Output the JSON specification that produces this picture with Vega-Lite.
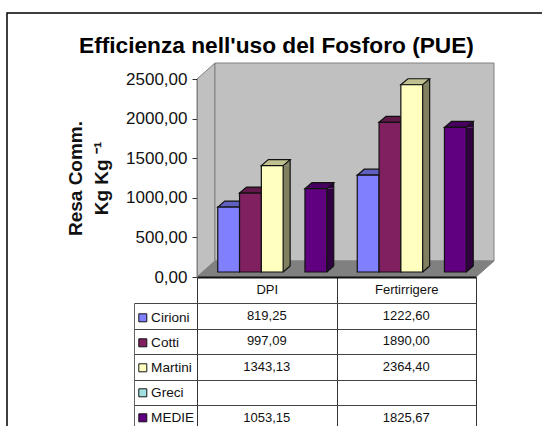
{
"$schema":"https://vega.github.io/schema/vega-lite/v6.json",
"width":537,"height":414,
"autosize":"none",
"padding":{"left":7,"top":13,"right":0,"bottom":0},
"background":"white",
"config":{"view":{"stroke":"black","strokeWidth":1.5},"font":"Liberation Sans","locale":{"number":{"decimal":",","thousands":".","grouping":[3],"currency":["","€"]}}},
"title":{"text":"Efficienza nell'uso del Fosforo (PUE)","font":"Liberation Sans","fontSize":22.7,"fontWeight":"bold","color":"black","anchor":"start","offset":-45,"dx":72},
"datasets":{
"rows":[
{"t":"DPI","s":"Cirioni","value":819.25},{"t":"DPI","s":"Cotti","value":997.09},{"t":"DPI","s":"Martini","value":1343.13},{"t":"DPI","s":"Greci","value":null},{"t":"DPI","s":"MEDIE","value":1053.15},
{"t":"Fertirrigere","s":"Cirioni","value":1222.60},{"t":"Fertirrigere","s":"Cotti","value":1890.00},{"t":"Fertirrigere","s":"Martini","value":2364.40},{"t":"Fertirrigere","s":"Greci","value":null},{"t":"Fertirrigere","s":"MEDIE","value":1825.67}],
"walls":[
{"part":"side","u":0,"lo":0,"hi":2500},{"part":"side","u":0.0645,"lo":202,"hi":2702},
{"part":"back","u":0.0645,"lo":202,"hi":2702},{"part":"back","u":1.0645,"lo":202,"hi":2702},
{"part":"floor","u":0,"lo":0,"hi":0},{"part":"floor","u":0.0645,"lo":0,"hi":202},{"part":"floor","u":1,"lo":0,"hi":202},{"part":"floor","u":1.0645,"lo":202,"hi":202}]
},
"layer":[
{"data":{"name":"walls"},
 "mark":{"type":"area","orient":"vertical","stroke":"#808080","strokeWidth":1,"opacity":1},
 "encoding":{
  "x":{"field":"u","type":"quantitative","axis":null,"scale":{"domain":[0,1.0645],"range":[190,487],"zero":false,"nice":false}},
  "y":{"field":"hi","type":"quantitative","stack":null,"scale":{"domain":[0,2500],"range":[264,66],"nice":false,"zero":false},
   "axis":{"orient":"left","offset":-190,"values":[0,500,1000,1500,2000,2500],"format":".2f","grid":false,"domainColor":"#808080","tickColor":"#333333","tickSize":5,"labelPadding":5,"labelFontSize":17,"labelColor":"#111111","labelFont":"Liberation Sans","zindex":1,
    "title":["Resa Comm.","Kg Kg ⁻¹"],"titleFontSize":19,"titleFontWeight":"bold","titleColor":"#111111","titleFont":"Liberation Sans","titleX":-112,"titleY":165,"titleAngle":-90,"titleLineHeight":26}},
  "y2":{"field":"lo"},
  "color":{"field":"part","type":"nominal","legend":null,"scale":{"domain":["side","back","floor"],"range":["#c0c0c0","#c0c0c0","#808080"]}}
 }},
{"data":{"name":"rows"},
 "encoding":{
  "x":{"field":"t","type":"nominal","axis":null,"scale":{"type":"band","domain":["DPI","Fertirrigere"],"range":[195.5,474.5],"paddingInner":0,"paddingOuter":0}},
  "xOffset":{"field":"s","type":"nominal","scale":{"type":"band","domain":["Cirioni","Cotti","Martini","Greci","MEDIE"],"paddingInner":0,"paddingOuter":0.7}},
  "y":{"field":"value","type":"quantitative","axis":null,"scale":{"domain":[0,2500],"range":[264,66],"nice":false,"zero":false}}
 },
 "resolve":{"scale":{"color":"independent","x":"independent","xOffset":"independent"}},
 "layer":[
  {"mark":{"type":"rule","strokeWidth":7,"yOffset":-5,"y2Offset":-11},
   "encoding":{"x":{"field":"t","type":"nominal","axis":null,"scale":{"type":"band","domain":["DPI","Fertirrigere"],"range":[209.9,488.9],"paddingInner":0,"paddingOuter":0}},
    "y2":{"datum":0},
    "color":{"field":"s","type":"nominal","legend":null,"scale":{"domain":["Cirioni","Cotti","Martini","Greci","MEDIE"],"range":["#404080","#401030","#808060","#508080","#300040"]}}}},
  {"transform":[{"filter":"datum.value != null"}],"mark":{"type":"point","filled":true,"opacity":1,"size":4,"yOffset":-5,"shape":"M10.9 0L17.9 -6L17.9 0Z"},
   "encoding":{"color":{"field":"s","type":"nominal","legend":null,"scale":{"domain":["Cirioni","Cotti","Martini","Greci","MEDIE"],"range":["#404080","#401030","#808060","#508080","#300040"]}}}},
  {"transform":[{"filter":"datum.value != null"}],"mark":{"type":"point","filled":true,"opacity":1,"size":4,"yOffset":-5,"shape":"M10.9 0L17.9 -6L10.9 -6Z"},
   "encoding":{"y":{"datum":0},"color":{"field":"s","type":"nominal","legend":null,"scale":{"domain":["Cirioni","Cotti","Martini","Greci","MEDIE"],"range":["#404080","#401030","#808060","#508080","#300040"]}}}},
  {"transform":[{"filter":"datum.value != null"}],"mark":{"type":"point","filled":false,"opacity":1,"size":4,"stroke":"#111111","strokeWidth":1.2,"yOffset":-5,"shape":"M10.9 0L17.9 -6"},
   "encoding":{"y":{"datum":0}}},
  {"transform":[{"filter":"datum.value != null"}],"mark":{"type":"rule","stroke":"#111111","strokeWidth":1.2,"yOffset":-11,"y2Offset":-11},
   "encoding":{"x":{"field":"t","type":"nominal","axis":null,"scale":{"type":"band","domain":["DPI","Fertirrigere"],"range":[213.4,492.4],"paddingInner":0,"paddingOuter":0}},
    "y2":{"datum":0}}},
  {"transform":[{"filter":"datum.value != null"}],"mark":{"type":"point","filled":true,"opacity":1,"size":4,"stroke":"#111111","strokeWidth":1.2,"yOffset":-5,"shape":"M-10.9 0L-3.9 -6L17.9 -6L10.9 0Z"},
   "encoding":{"color":{"field":"s","type":"nominal","legend":null,"scale":{"domain":["Cirioni","Cotti","Martini","Greci","MEDIE"],"range":["#6060c0","#601848","#c0c090","#78a8a8","#480060"]}}}},
  {"mark":{"type":"bar","stroke":"#111111","strokeWidth":1.2,"yOffset":-5,"y2Offset":-5},
   "encoding":{"color":{"field":"s","type":"nominal","scale":{"domain":["Cirioni","Cotti","Martini","Greci","MEDIE"],"range":["#8080ff","#802060","#ffffc0","#a0e0e0","#600080"]},
    "legend":{"orient":"none","legendX":129,"legendY":298,"title":null,"symbolType":"square","symbolSize":64,"symbolStrokeColor":"#111111","symbolStrokeWidth":1,"labelFontSize":13.6,"labelColor":"#111111","labelFont":"Liberation Sans","labelOffset":1.5,"rowPadding":10,"padding":0,"columns":1}}}}
 ]},
{"data":{"name":"rows"},
 "transform":[{"filter":"datum.value != null"}],
 "mark":{"type":"text","fontSize":13,"font":"Liberation Sans","color":"#111111"},
 "encoding":{
  "x":{"field":"t","type":"nominal","scale":{"type":"band","domain":["DPI","Fertirrigere"],"range":[190,469],"paddingInner":0,"paddingOuter":0},
   "axis":{"orient":"bottom","offset":-150,"title":null,"labelAngle":0,"tickBand":"extent","tickSize":153,"tickColor":"#333333","domainColor":"#111111","domainWidth":2,"labelPadding":-147,"labelFontSize":13,"labelColor":"#111111","labelFont":"Liberation Sans","grid":false,"zindex":1}},
  "y":{"field":"s","type":"nominal","scale":{"type":"band","domain":["Cirioni","Cotti","Martini","Greci","MEDIE"],"range":[290,417.5],"paddingInner":0,"paddingOuter":0},
   "axis":{"orient":"left","offset":-127,"title":null,"labels":false,"tickBand":"extent","tickSize":-342,"tickColor":"#444444","domainColor":"#666666","grid":false,"zindex":1}},
  "text":{"field":"value","type":"quantitative","format":".2f"}
 }}
],
"resolve":{"scale":{"x":"independent","y":"independent","color":"independent"},"axis":{"x":"independent","y":"independent"}}
}
